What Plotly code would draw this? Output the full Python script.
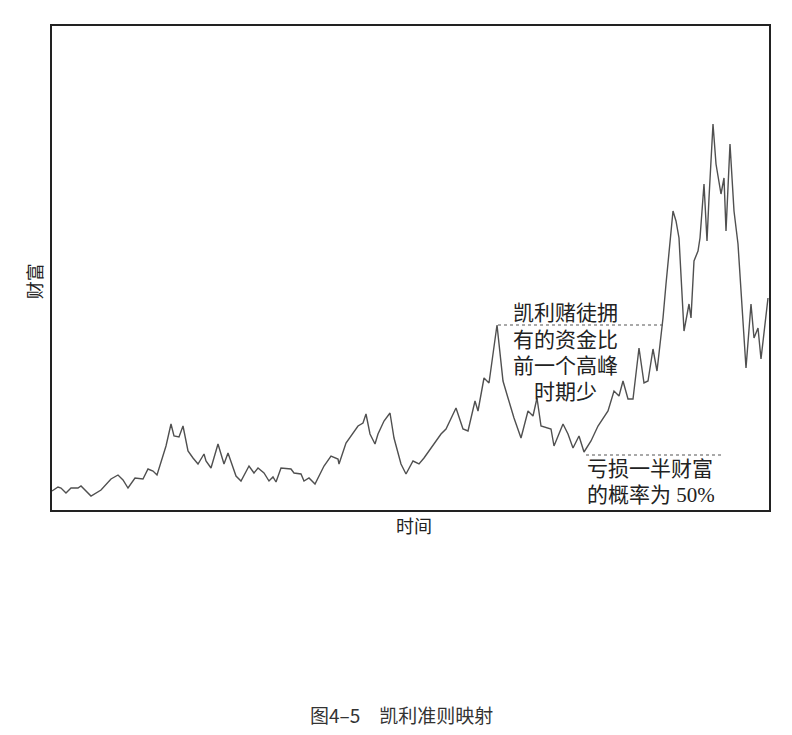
import plotly.graph_objects as go

# time (trading days) and wealth values
time = [0, 6, 9, 14, 19, 26, 29, 32, 39, 49,
        54, 59, 66, 71, 76, 83, 91, 96, 101, 105,
        114, 119, 122, 127, 131, 136, 141, 146, 152, 154,
        159, 166, 172, 176, 184, 189, 197, 202, 206, 212,
        217, 221, 224, 229, 239, 242, 249, 252, 257, 263,
        272, 279, 286, 287, 294, 299, 306, 311, 314, 318,
        323, 326, 332, 338, 342, 349, 354, 361, 367, 372,
        379, 389, 394, 404, 411, 416, 423, 426, 432, 437,
        445, 447, 451, 456, 462, 469, 476, 481, 485, 489,
        499, 502, 511, 516, 521, 527, 532, 539, 546, 556,
        562, 567, 571, 576, 581, 587, 592, 596, 601, 605,
        611, 614, 621, 624, 627, 632, 637, 639, 642, 646,
        648, 652, 655, 657, 661, 664, 669, 672, 674, 678,
        682, 686, 694, 699, 702, 706, 709, 716]

wealth = [4.75, 5.75, 5.5, 4.25, 5.5, 5.5, 6, 5.25, 3.5, 5,
          6.5, 7.75, 8.75, 7.5, 5.5, 8, 7.75, 10.25, 9.75, 8.75,
          16, 21.5, 18.5, 18.25, 21, 14.75, 13, 11.5, 14, 12.25,
          10.5, 16.5, 11.5, 14.25, 8.5, 7.25, 11, 9.25, 10.5, 9.25,
          7.25, 8.25, 7, 10.5, 10.25, 9.25, 9, 7.25, 8, 6.5,
          11, 13.5, 12.75, 11.5, 16.75, 18.5, 21, 21.75, 24, 19,
          16.5, 19, 22.25, 24.25, 18, 11.5, 9, 12.25, 11.5, 13,
          15.5, 19, 20.25, 25.5, 20.25, 19.75, 27.25, 24.75, 33, 31.75,
          46.25, 41.5, 32.25, 28, 23, 18, 24.75, 23.5, 28, 21,
          20.25, 16, 21.5, 19, 15.5, 18.5, 14.5, 17.25, 21, 24.75,
          29.75, 28.5, 32.25, 27.75, 27.75, 40.5, 31.75, 32.25, 40.25, 34.75,
          48, 56.5, 74.75, 72.25, 68, 44.75, 51.5, 48, 62.25, 64.75,
          68, 81.5, 67.25, 78, 96.5, 86.5, 79, 83, 69.75, 91.5,
          74.75, 66.5, 35.5, 51.5, 43, 45.5, 37.75, 53]

peak_lines = ["凯利赌徒拥", "有的资金比", "前一个高峰", "时期少"]
loss_lines = ["亏损一半财富", "的概率为 50%"]
x_title = "时间"
y_title = "财富"
caption = "图4–5　凯利准则映射"

CJK = "Noto Sans CJK SC"
SERIF = "Liberation Serif, Noto Sans CJK SC"
TXT = "#222222"

fig = go.Figure()
fig.add_trace(go.Scatter(x=time, y=wealth, mode="lines",
                         line=dict(color="#505050", width=1.4),
                         hoverinfo="skip", showlegend=False))

# dotted reference lines
fig.add_shape(type="line", x0=446, x1=611, y0=46.25, y1=46.25,
              line=dict(color="#555555", width=1.2, dash="dot"))
fig.add_shape(type="line", x0=534, x1=669, y0=13.75, y1=13.75,
              line=dict(color="#555555", width=1.2, dash="dot"))

for txt, yy in zip(peak_lines, [49.25, 42.5, 36, 29.5]):
    fig.add_annotation(x=513.5, y=yy, xref="x", yref="y", text=txt,
                       showarrow=False, xanchor="center", yanchor="middle",
                       height=24, borderpad=0, borderwidth=0,
                       font=dict(family=SERIF, size=21, color=TXT))
for txt, yy in zip(loss_lines, [10.25, 3.75]):
    fig.add_annotation(x=535, y=yy, xref="x", yref="y", text=txt,
                       showarrow=False, xanchor="left", yanchor="middle",
                       height=24, borderpad=0, borderwidth=0,
                       font=dict(family=SERIF, size=21, color=TXT))

fig.add_annotation(x=0.505, y=-0.031, xref="paper", yref="paper", text=x_title,
                   showarrow=False, xanchor="center", yanchor="middle",
                   font=dict(family=CJK, size=18, color=TXT))
fig.add_annotation(x=-0.025, y=0.473, xref="paper", yref="paper", text=y_title,
                   showarrow=False, textangle=-90, xanchor="center", yanchor="middle",
                   font=dict(family=CJK, size=18, color=TXT))
fig.add_annotation(x=0.488, y=-0.4215, xref="paper", yref="paper", text=caption,
                   showarrow=False, xanchor="center", yanchor="middle",
                   font=dict(family=CJK, size=19, color="#333333"))

fig.update_layout(
    width=784, height=727,
    margin=dict(l=44, r=23, t=18, b=225),
    paper_bgcolor="white", plot_bgcolor="white",
    xaxis=dict(range=[0, 717], showgrid=False, zeroline=False, showticklabels=False,
               ticks="", showline=True, mirror=True, linecolor="#222222", linewidth=1.5),
    yaxis=dict(range=[0, 121], showgrid=False, zeroline=False, showticklabels=False,
               ticks="", showline=True, mirror=True, linecolor="#222222", linewidth=1.5),
)

fig.write_html("out.html")
